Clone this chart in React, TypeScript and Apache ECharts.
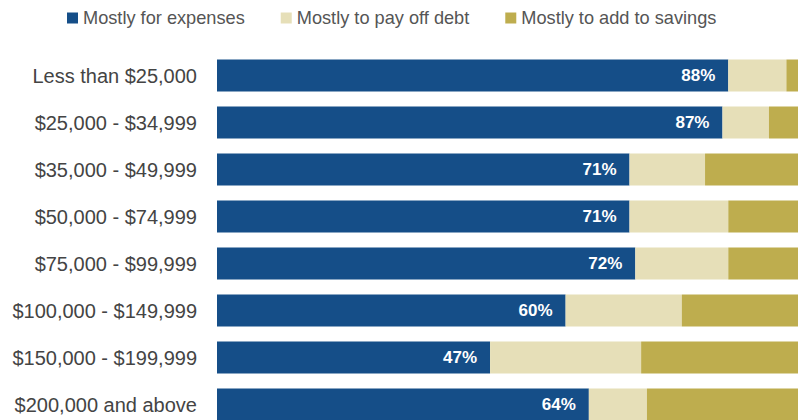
import React, { useEffect, useRef } from "react";
import * as echarts from "echarts";

const categories = [
  "Less than $25,000",
  "$25,000 - $34,999",
  "$35,000 - $49,999",
  "$50,000 - $74,999",
  "$75,000 - $99,999",
  "$100,000 - $149,999",
  "$150,000 - $199,999",
  "$200,000 and above",
];
const expenses = [88, 87, 71, 71, 72, 60, 47, 64];
const debt = [10, 8, 13, 17, 16, 20, 26, 10];
const savings = [2, 5, 16, 12, 12, 20, 27, 26];
const seriesNames = ["Mostly for expenses", "Mostly to pay off debt", "Mostly to add to savings"];
const colors = ["#154e88", "#e6dfb8", "#bead4e"];

export default function App() {
  const ref = useRef<HTMLDivElement>(null);
  useEffect(() => {
    if (!ref.current) return;
    const chart = echarts.init(ref.current, null, { renderer: "svg" });
    const font = "'Liberation Sans', Arial, Helvetica, sans-serif";
    chart.setOption({
      animation: false,
      textStyle: { fontFamily: font },
      legend: {
        left: 62,
        top: 4,
        itemWidth: 11,
        itemHeight: 11,
        itemGap: 36,
        icon: "rect",
        textStyle: { fontSize: 18.2, color: "#555", fontFamily: font },
        data: seriesNames,
      },
      grid: { left: 217, right: 0, top: 52, height: 376, containLabel: false },
      xAxis: {
        type: "value",
        min: 0,
        max: 100,
        show: false,
      },
      yAxis: {
        type: "category",
        data: categories,
        inverse: true,
        axisLine: { show: false },
        axisTick: { show: false },
        axisLabel: { fontSize: 20, color: "#444", margin: 20, fontFamily: font },
      },
      series: [expenses, debt, savings].map((d, i) => ({
        name: seriesNames[i],
        type: "bar",
        stack: "total",
        data: d,
        barWidth: 32,
        itemStyle: { color: colors[i] },
        label:
          i === 0
            ? {
                show: true,
                position: "insideRight",
                distance: 13,
                formatter: "{c}%",
                color: "#fff",
                fontWeight: "bold",
                fontSize: 17,
                fontFamily: font,
              }
            : { show: false },
      })),
    });
    return () => chart.dispose();
  }, []);
  return (
    <div style={{ width: 798, height: 420, position: "absolute", left: 0, top: 0, overflow: "hidden" }}>
      <div ref={ref} style={{ width: 798, height: 440 }} />
    </div>
  );
}
